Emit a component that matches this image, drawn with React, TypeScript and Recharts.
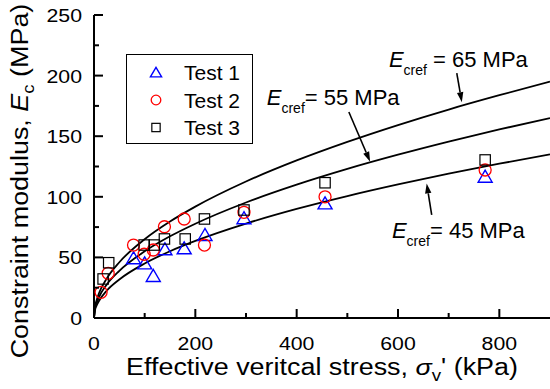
import React from "react";
import {
  ComposedChart,
  XAxis,
  YAxis,
  Scatter,
  Line,
  Legend,
  ReferenceLine,
  ReferenceDot,
} from "recharts";

// ---------- data ----------
const xMajorTicks = [0, 200, 400, 600, 800];
const xMinorTicks = [100, 300, 500, 700];
const yMajorTicks = [0, 50, 100, 150, 200, 250];
const yMinorTicks = [25, 75, 125, 175, 225];

const test1 = [
  { x: 78, y: 49.3 },
  { x: 100, y: 45.1 },
  { x: 117, y: 34.7 },
  { x: 140, y: 56.7 },
  { x: 178, y: 57.5 },
  { x: 219, y: 68.5 },
  { x: 296, y: 82.3 },
  { x: 456, y: 94.6 },
  { x: 772, y: 116.6 },
];

const test2 = [
  { x: 14, y: 21.2 },
  { x: 28, y: 36.9 },
  { x: 78, y: 60.2 },
  { x: 99, y: 52.6 },
  { x: 117, y: 56.1 },
  { x: 139, y: 75.3 },
  { x: 178, y: 81.7 },
  { x: 218, y: 60.2 },
  { x: 296, y: 87.2 },
  { x: 456, y: 100 },
  { x: 772, y: 122.1 },
];

const test3 = [
  { x: 18, y: 32.2 },
  { x: 29, y: 45.6 },
  { x: 99, y: 60.2 },
  { x: 119, y: 60.2 },
  { x: 139, y: 65.2 },
  { x: 180, y: 65.2 },
  { x: 218, y: 81.7 },
  { x: 296, y: 89.1 },
  { x: 456, y: 111.6 },
  { x: 772, y: 130.4 },
];

// model curves, values
const curveX = [0, 2, 5, 10, 25, 50, 100, 150, 200, 300, 400, 500, 600, 700, 800, 900];
const curve65 = [0, 9.2, 14.5, 20.6, 32.5, 46, 65, 79.6, 91.9, 112.6, 130, 145.3, 159.2, 172, 183.8, 195];
const curve55 = [0, 7.8, 12.3, 17.4, 27.5, 38.9, 55, 67.4, 77.8, 95.3, 110, 123, 134.7, 145.5, 155.6, 165];
const curve45 = [0, 6.4, 10.1, 14.2, 22.5, 31.8, 45, 55.1, 63.6, 77.9, 90, 100.6, 110.2, 119.1, 127.3, 135];

const toPts = (ys: number[]) => curveX.map((x, i) => ({ x, y: ys[i] }));

const annotations = [
  { label: "65", textX: 582, textY: 207, space: true, from: { x: 716, y: 202 }, to: { x: 726, y: 178 } },
  { label: "55", textX: 341, textY: 175.7, space: false, from: { x: 503, y: 170 }, to: { x: 545, y: 129 } },
  { label: "45", textX: 588, textY: 66, space: false, from: { x: 666.5, y: 85 }, to: { x: 656.6, y: 111 } },
];

const legendItems = [
  { name: "Test 1", kind: "triangle", color: "#0000ff" },
  { name: "Test 2", kind: "circle", color: "#ff0000" },
  { name: "Test 3", kind: "square", color: "#000000" },
];

// ---------- styling ----------
const FONT = "'Liberation Sans', Arial, sans-serif";
const STRETCH = 1.12;

const Marker = ({ kind, cx, cy, color, s = 1 }: any) => {
  if (kind === "triangle") {
    const h = 6.5 * s;
    const pts = `${cx},${cy - h} ${cx - 7 * s},${cy + 5.5 * s} ${cx + 7 * s},${cy + 5.5 * s}`;
    return <polygon points={pts} fill="none" stroke={color} strokeWidth={1.4} />;
  }
  if (kind === "circle") {
    return <circle cx={cx} cy={cy} r={6 * s} fill="none" stroke={color} strokeWidth={1.3} />;
  }
  const a = 5.2 * s;
  return <rect x={cx - a} y={cy - a} width={2 * a} height={2 * a} fill="none" stroke={color} strokeWidth={1.2} />;
};

const shapeFor = (kind: string, color: string) => (p: any) => (
  <Marker kind={kind} cx={p.cx} cy={p.cy} color={color} />
);

const BottomTick = (p: any) => {
  const v = p.payload.value;
  const major = xMajorTicks.includes(v);
  return (
    <g>
      <line x1={p.x} y1={p.y} x2={p.x} y2={p.y - (major ? 9 : 5)} stroke="#000" strokeWidth={2} />
      {major && (
        <text
          transform={`translate(${p.x},${p.y + 31.5}) scale(${STRETCH},1)`}
          textAnchor="middle"
          fontSize={19}
          fontFamily={FONT}
          fill="#000"
        >
          {v}
        </text>
      )}
    </g>
  );
};

const TopTick = (p: any) => {
  const v = p.payload.value;
  const major = xMajorTicks.includes(v);
  return <line x1={p.x} y1={p.y} x2={p.x} y2={p.y + (major ? 9 : 5)} stroke="#000" strokeWidth={2} />;
};

const LeftTick = (p: any) => {
  const v = p.payload.value;
  const major = yMajorTicks.includes(v);
  return (
    <g>
      <line x1={p.x} y1={p.y} x2={p.x + (major ? 9 : 5)} y2={p.y} stroke="#000" strokeWidth={2} />
      {major && (
        <text
          transform={`translate(${p.x - 12},${p.y + 7}) scale(${STRETCH},1)`}
          textAnchor="end"
          fontSize={19}
          fontFamily={FONT}
          fill="#000"
        >
          {v}
        </text>
      )}
    </g>
  );
};

const RightTick = (p: any) => {
  const v = p.payload.value;
  const major = yMajorTicks.includes(v);
  return <line x1={p.x} y1={p.y} x2={p.x - (major ? 9 : 5)} y2={p.y} stroke="#000" strokeWidth={2} />;
};

const Arrow = (p: any) => {
  const { x1, y1, x2, y2 } = p;
  const dx = x2 - x1;
  const dy = y2 - y1;
  const len = Math.sqrt(dx * dx + dy * dy) || 1;
  const ux = dx / len;
  const uy = dy / len;
  const hl = 10;
  const hw = 3.2;
  const bx = x2 - ux * hl;
  const by = y2 - uy * hl;
  const pts = `${x2},${y2} ${bx - uy * hw},${by + ux * hw} ${bx + uy * hw},${by - ux * hw}`;
  return (
    <g>
      <line x1={x1} y1={y1} x2={bx} y2={by} stroke="#000" strokeWidth={1.6} />
      <polygon points={pts} fill="#000" />
    </g>
  );
};

const AnnText = (label: string, space: boolean) => (p: any) => (
  <text x={p.cx} y={p.cy} fontSize={22} fontFamily={FONT} fill="#000">
    <tspan fontStyle="italic">E</tspan>
    <tspan fontSize={14} dy={8}>cref</tspan>
    <tspan dy={-8}>{(space ? " " : "") + "= " + label + " MPa"}</tspan>
  </text>
);

const renderLegend = () => (
  <svg width={128} height={91}>
    <rect x={0.5} y={0.5} width={126} height={89} fill="#fff" stroke="#000" strokeWidth={1} />
    {legendItems.map((it, i) => (
      <g key={it.name}>
        <Marker kind={it.kind} cx={30} cy={18.5 + i * 27.5} color={it.color} s={0.8} />
        <text x={58} y={26 + i * 27.5} fontSize={21} fontFamily={FONT} fill="#000">
          {it.name}
        </text>
      </g>
    ))}
  </svg>
);

const XTitle = () => (
  <text
    transform="translate(322,375) scale(1.17,1)"
    textAnchor="middle"
    fontSize={23}
    fontFamily={FONT}
    fill="#000"
  >
    <tspan>Effective veritcal stress, </tspan>
    <tspan fontStyle="italic">σ</tspan>
    <tspan fontSize={16} dy={6}>v</tspan>
    <tspan dy={-6}>' (kPa)</tspan>
  </text>
);

const YTitle = () => (
  <text
    transform="translate(28,181) rotate(-90) scale(1.17,1)"
    textAnchor="middle"
    fontSize={23}
    fontFamily={FONT}
    fill="#000"
  >
    <tspan>Constraint modulus, </tspan>
    <tspan fontStyle="italic">E</tspan>
    <tspan fontSize={16} dy={6}>c</tspan>
    <tspan dy={-6}> (MPa)</tspan>
  </text>
);

export default function App() {
  const xTicks = [...xMajorTicks, ...xMinorTicks].sort((a, b) => a - b);
  const yTicks = [...yMajorTicks, ...yMinorTicks].sort((a, b) => a - b);
  const axisLine = { stroke: "#000", strokeWidth: 2 };
  return (
    <div style={{ position: "absolute", left: 0, top: 0, width: 550, height: 389, overflow: "hidden", background: "#fff" }}>
      <ComposedChart width={552} height={389} margin={{ top: 15, right: 2, bottom: 0, left: 0 }}>
        <XAxis
          xAxisId={0}
          type="number"
          dataKey="x"
          domain={[0, 900]}
          ticks={xTicks}
          interval={0}
          height={71}
          axisLine={axisLine}
          tickLine={false}
          tickSize={0}
          tickMargin={0}
          tick={BottomTick}
          label={{ content: () => <XTitle /> }}
        />
        <XAxis
          xAxisId="top"
          orientation="top"
          type="number"
          domain={[0, 900]}
          ticks={xTicks}
          interval={0}
          height={0}
          axisLine={axisLine}
          tickLine={false}
          tickSize={0}
          tickMargin={0}
          tick={TopTick}
        />
        <YAxis
          yAxisId={0}
          type="number"
          dataKey="y"
          domain={[0, 250]}
          ticks={yTicks}
          interval={0}
          width={94}
          axisLine={axisLine}
          tickLine={false}
          tickSize={0}
          tickMargin={0}
          tick={LeftTick}
          label={{ content: () => <YTitle /> }}
        />
        <YAxis
          yAxisId="right"
          orientation="right"
          type="number"
          domain={[0, 250]}
          ticks={yTicks}
          interval={0}
          width={0}
          axisLine={axisLine}
          tickLine={false}
          tickSize={0}
          tickMargin={0}
          tick={RightTick}
        />
        <Line data={toPts(curve65)} dataKey="y" type="monotone" stroke="#000" strokeWidth={1.8} dot={false} activeDot={false} isAnimationActive={false} legendType="none" />
        <Line data={toPts(curve55)} dataKey="y" type="monotone" stroke="#000" strokeWidth={1.8} dot={false} activeDot={false} isAnimationActive={false} legendType="none" />
        <Line data={toPts(curve45)} dataKey="y" type="monotone" stroke="#000" strokeWidth={1.8} dot={false} activeDot={false} isAnimationActive={false} legendType="none" />
        <Scatter name="Test 1" data={test1} dataKey="y" shape={shapeFor("triangle", "#0000ff")} isAnimationActive={false} />
        <Scatter name="Test 2" data={test2} dataKey="y" shape={shapeFor("circle", "#ff0000")} isAnimationActive={false} />
        <Scatter name="Test 3" data={test3} dataKey="y" shape={shapeFor("square", "#000000")} isAnimationActive={false} />
        {annotations.map((a) => (
          <ReferenceLine key={"l" + a.label} segment={[a.from, a.to]} shape={Arrow} />
        ))}
        {annotations.map((a) => (
          <ReferenceDot key={"t" + a.label} x={a.textX} y={a.textY} r={0} shape={AnnText(a.label, a.space)} />
        ))}
        <Legend
          layout="vertical"
          align="center"
          verticalAlign="middle"
          content={renderLegend}
          wrapperStyle={{ position: "absolute", left: 126, top: 54, width: 128, height: 91 }}
        />
      </ComposedChart>
    </div>
  );
}
